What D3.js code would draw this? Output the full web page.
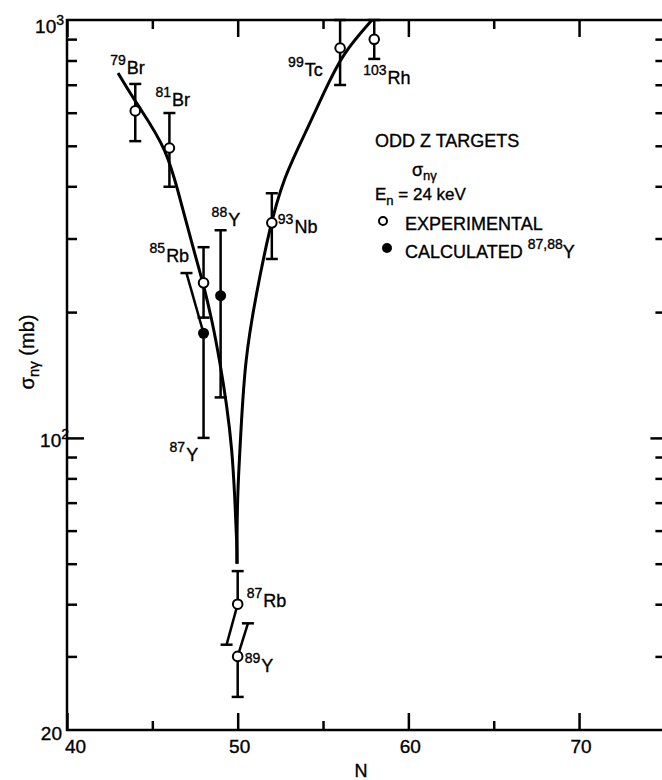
<!DOCTYPE html>
<html>
<head>
<meta charset="utf-8">
<script src="https://cdn.jsdelivr.net/npm/d3@7"></script>
<style>
body { margin: 0; background: #fff; }
text { font-family: "Liberation Sans", Arial, sans-serif; fill: #000; stroke: #000; stroke-width: 0.35px; }
</style>
</head>
<body>
<svg id="chart" width="662" height="780"></svg>
<script>
// experimental points (open circles)
var expMass = ["79", "81", "85", "87", "89", "93", "99", "103"];
var expSym = ["Br", "Br", "Rb", "Rb", "Y", "Nb", "Tc", "Rh"];
var expN = [44, 46, 48, 50, 50, 52, 56, 58];
var expSigma = [606, 494, 235, 40, 30, 327, 857, 899];
var expHi = [703, 599, 286, 48, 36, 385, 1000, 1000];
var expLo = [513, 399, 194, 32, 24, 268, 699, 807];
// N of the bar ends (a few bars are drawn slanted in the original)
var expHiN = [44, 46, 48, 50, 50.6, 52, 56, 58];
var expLoN = [44, 46, 48, 49.35, 50, 52, 56, 58];

// calculated points (filled circles)
var calcMass = ["87", "88"];
var calcSym = ["Y", "Y"];
var calcN = [48, 49];
var calcSigma = [178, 219];
var calcHi = [248, 314];
var calcLo = [100, 125];
var calcHiN = [47, 49];
var calcLoN = [48, 49];

// the two drawn curves meeting at N = 50
var leftCurveN = [42.99, 44.1, 45.86, 46.74, 47.38, 47.97, 48.49, 48.96, 49.37, 49.67, 49.84, 49.96, 49.96];
var leftCurveSigma = [747, 628, 494, 357, 286, 235, 192, 152, 119, 94, 71, 55, 50];
var rightCurveN = [49.96, 49.96, 50.0, 50.19, 50.43, 51.07, 51.89, 52.65, 53.77, 55.12, 56.17, 57.87];
var rightCurveSigma = [50, 60, 75, 104, 154, 220, 320, 414, 516, 680, 834, 1000];

// ticks
var xTicksMajor = [40, 50, 60, 70];
var xTicksMinor = [45, 55, 65];
var xTickLabels = ["40", "50", "60", "70"];
var yTicksMajor = [100];
var yTicksMinor = [30, 40, 50, 60, 70, 80, 90, 200, 300, 400, 500, 600, 700, 800, 900];

// label placement, pixels from the point
var expLabelDx = [-25, -14, -54, 9, 7, 6, -52, -11];
var expLabelDy = [-37, -42, -21, 3, 16, 10, 28, 45];
var calcLabelDx = [-34, -9];
var calcLabelDy = [128, -70];

var svg = d3.select("#chart");
svg.append("rect").attr("width", 662).attr("height", 780).attr("fill", "#fff");

var x = d3.scaleLinear().domain([40, 75]).range([67, 664.4]);
var y = d3.scaleLog().domain([20, 1000]).range([730, 20]);

/* inward ticks on all four sides */
function drawTicks(gen, tx, ty, values, len)
{
    var g = svg.append("g")
        .attr("transform", "translate(" + tx + "," + ty + ")")
        .call(gen.tickValues(values).tickSize(-len).tickSizeOuter(0).tickFormat(""));
    g.select(".domain").remove();
    g.selectAll("line").attr("stroke", "#000").attr("stroke-width", 2.5);
}

drawTicks(d3.axisBottom(x), 0, y(20), xTicksMajor, 17);
drawTicks(d3.axisBottom(x), 0, y(20), xTicksMinor, 9);
drawTicks(d3.axisTop(x), 0, y(1000), xTicksMajor, 17);
drawTicks(d3.axisTop(x), 0, y(1000), xTicksMinor, 9);
drawTicks(d3.axisLeft(y), x(40), 0, yTicksMajor, 17);
drawTicks(d3.axisLeft(y), x(40), 0, yTicksMinor, 10);
drawTicks(d3.axisRight(y), x(75), 0, yTicksMajor, 14);
drawTicks(d3.axisRight(y), x(75), 0, yTicksMinor, 9);

// frame
svg.append("rect")
    .attr("x", x(40)).attr("y", y(1000))
    .attr("width", x(75) - x(40)).attr("height", y(20) - y(1000))
    .attr("fill", "none").attr("stroke", "#000").attr("stroke-width", 2.5);

// x tick labels
svg.selectAll(".xlab").data(xTicksMajor).enter().append("text")
    .attr("class", "xlab")
    .attr("x", function (d, i) { return i === 0 ? x(d) - 2 : x(d) + 2; })
    .attr("y", 753)
    .attr("text-anchor", function (d, i) { return i === 0 ? "start" : "middle"; })
    .style("font-size", "19px")
    .text(function (d, i) { return xTickLabels[i]; });

// y tick labels
function powLabel(px, py, base, exp)
{
    var t = svg.append("text").attr("x", px).attr("y", py).attr("text-anchor", "end").style("font-size", "19px");
    t.append("tspan").text(base);
    if (exp) t.append("tspan").text(exp).style("font-size", "14px").attr("dy", -8);
}
powLabel(x(40) - 3, y(1000) + 13, "10", "3");
powLabel(x(40) + 2, y(100) + 9, "10", "2");
powLabel(x(40) - 5, y(20) + 10, "20", null);

// axis titles
svg.append("text").attr("x", 361).attr("y", 777).attr("text-anchor", "middle")
    .style("font-size", "18px").text("N");

var yt = svg.append("text")
    .attr("transform", "translate(34,352) rotate(-90)")
    .attr("text-anchor", "middle")
    .style("font-size", "20px");
yt.append("tspan").text("σ");
yt.append("tspan").text("nγ").style("font-size", "15px").attr("dy", 5);
yt.append("tspan").text("  (mb)").attr("dy", -5);

// curves
var line = d3.line()
    .x(function (d) { return x(d[0]); })
    .y(function (d) { return y(d[1]); })
    .curve(d3.curveBasis);

svg.append("path").datum(d3.zip(leftCurveN, leftCurveSigma))
    .attr("d", line).attr("fill", "none").attr("stroke", "#000").attr("stroke-width", 3);
svg.append("path").datum(d3.zip(rightCurveN, rightCurveSigma))
    .attr("d", line).attr("fill", "none").attr("stroke", "#000").attr("stroke-width", 3);

/* error bar: stem from the point to the cap, then a short cap */
function errorBar(n, s, capN, capS)
{
    svg.append("line")
        .attr("x1", x(n)).attr("y1", y(s))
        .attr("x2", x(capN)).attr("y2", y(capS))
        .attr("stroke", "#000").attr("stroke-width", 2.5);
    svg.append("line")
        .attr("x1", x(capN) - 6).attr("y1", y(capS))
        .attr("x2", x(capN) + 6).attr("y2", y(capS))
        .attr("stroke", "#000").attr("stroke-width", 2.5);
}

function isoLabel(px, py, mass, sym)
{
    var t = svg.append("text").attr("x", px).attr("y", py).style("font-size", "18px");
    t.append("tspan").text(mass).style("font-size", "14px").attr("dy", -9);
    t.append("tspan").text(sym).attr("dy", 9).attr("dx", 1);
}

for (var i = 0; i < expN.length; i++) {
    errorBar(expN[i], expSigma[i], expHiN[i], expHi[i]);
    errorBar(expN[i], expSigma[i], expLoN[i], expLo[i]);
}
for (var j = 0; j < calcN.length; j++) {
    errorBar(calcN[j], calcSigma[j], calcHiN[j], calcHi[j]);
    errorBar(calcN[j], calcSigma[j], calcLoN[j], calcLo[j]);
}

svg.selectAll(".exp").data(expN).enter().append("circle")
    .attr("class", "exp")
    .attr("cx", function (d) { return x(d); })
    .attr("cy", function (d, i) { return y(expSigma[i]); })
    .attr("r", 4.8)
    .attr("fill", "#fff").attr("stroke", "#000").attr("stroke-width", 2);

svg.selectAll(".calc").data(calcN).enter().append("circle")
    .attr("class", "calc")
    .attr("cx", function (d) { return x(d); })
    .attr("cy", function (d, i) { return y(calcSigma[i]); })
    .attr("r", 5.5)
    .attr("fill", "#000");

for (var k = 0; k < expN.length; k++) {
    isoLabel(x(expN[k]) + expLabelDx[k], y(expSigma[k]) + expLabelDy[k], expMass[k], expSym[k]);
}
for (var m = 0; m < calcN.length; m++) {
    isoLabel(x(calcN[m]) + calcLabelDx[m], y(calcSigma[m]) + calcLabelDy[m], calcMass[m], calcSym[m]);
}

// legend block
svg.append("text").attr("x", 375).attr("y", 147).style("font-size", "18px").text("ODD Z TARGETS");

var sg = svg.append("text").attr("x", 412).attr("y", 176).style("font-size", "18px");
sg.append("tspan").text("σ");
sg.append("tspan").text("nγ").style("font-size", "13px").attr("dy", 4);

var en = svg.append("text").attr("x", 375).attr("y", 200).style("font-size", "17px");
en.append("tspan").text("E");
en.append("tspan").text("n").style("font-size", "13px").attr("dy", 5);
en.append("tspan").text(" = 24  keV").attr("dy", -5);

svg.append("circle").attr("cx", 383).attr("cy", 221).attr("r", 4)
    .attr("fill", "#fff").attr("stroke", "#000").attr("stroke-width", 2);
svg.append("text").attr("x", 405).attr("y", 230).style("font-size", "18px").text("EXPERIMENTAL");

svg.append("circle").attr("cx", 387).attr("cy", 248).attr("r", 5).attr("fill", "#000");
var cl = svg.append("text").attr("x", 405).attr("y", 258).style("font-size", "18px");
cl.append("tspan").text("CALCULATED ");
cl.append("tspan").text("87,88").style("font-size", "14px").attr("dy", -9);
cl.append("tspan").text("Y").attr("dy", 9);
</script>
</body>
</html>
